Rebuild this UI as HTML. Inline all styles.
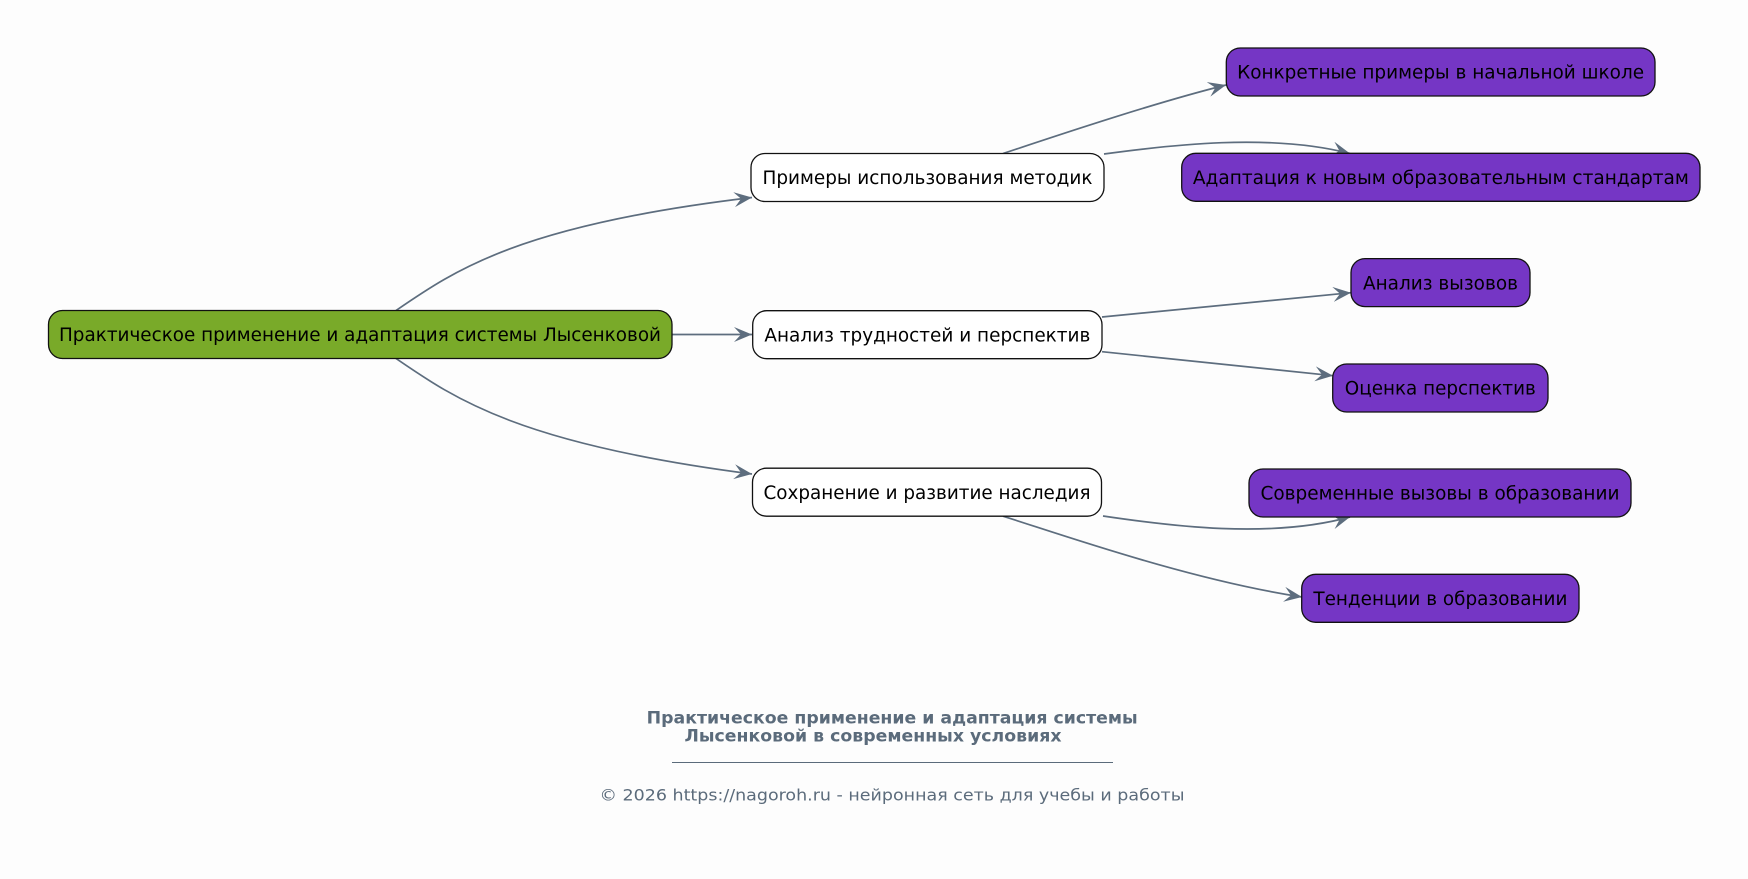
<!DOCTYPE html>
<html>
<head>
<meta charset="utf-8">
<style>
  html, body { margin:0; padding:0; background:#fdfdfd; }
  body { width:1748px; height:879px; overflow:hidden; }
  svg { display:block; }
  .n { font-family:"DejaVu Sans","Liberation Sans",sans-serif; font-size:18.5px; fill:#000; }
  .t { font-family:"DejaVu Sans","Liberation Sans",sans-serif; font-size:16.5px; font-weight:bold; fill:#5b6b7b; }
  .f { font-family:"DejaVu Sans","Liberation Sans",sans-serif; font-size:16px; fill:#5b6b7b; }
</style>
</head>
<body>
<svg width="1748" height="879" viewBox="0 0 1748 879" xmlns="http://www.w3.org/2000/svg">
  <defs>
    <marker id="ah" markerUnits="userSpaceOnUse" markerWidth="22" markerHeight="18" refX="18" refY="7.5" orient="auto">
      <path d="M0,0 L18,7.5 L0,15 L7,7.5 Z" fill="#5d6d7e"/>
    </marker>
  </defs>
  <rect width="1748" height="879" fill="#fdfdfd"/>

  <!-- edges -->
  <g fill="none" stroke="#5d6d7e" stroke-width="1.7" marker-end="url(#ah)">
    <path d="M396,310.5 C455,270 520,225 752,197.5"/>
    <path d="M672,334.5 L752,334.5"/>
    <path d="M396,358.5 C455,399 520,444 752,474"/>
    <path d="M1003,153.5 C1050,138 1150,104 1226,85"/>
    <path d="M1104,154 C1170,145 1270,133 1350,153.5"/>
    <path d="M1102,317 L1351,292.7"/>
    <path d="M1102,351.7 L1333,375.7"/>
    <path d="M1103,516 C1170,526 1270,539 1350,517"/>
    <path d="M1003,516.2 C1060,534 1190,580 1302,597"/>
  </g>

  <!-- root -->
  <rect x="48.5" y="310.5" width="623.5" height="48" rx="14" ry="14" fill="#79aa29" stroke="#111" stroke-width="1.3"/>
  <text class="n" x="360" y="341.2" text-anchor="middle" textLength="602" lengthAdjust="spacingAndGlyphs">Практическое применение и адаптация системы Лысенковой</text>

  <!-- middle nodes -->
  <rect x="751" y="153.5" width="353" height="48" rx="14" ry="14" fill="#ffffff" stroke="#111" stroke-width="1.3"/>
  <text class="n" x="927.5" y="184.2" text-anchor="middle" textLength="330" lengthAdjust="spacingAndGlyphs">Примеры использования методик</text>

  <rect x="752.7" y="310.7" width="349.3" height="48" rx="14" ry="14" fill="#ffffff" stroke="#111" stroke-width="1.3"/>
  <text class="n" x="927.4" y="341.4" text-anchor="middle" textLength="326" lengthAdjust="spacingAndGlyphs">Анализ трудностей и перспектив</text>

  <rect x="752.5" y="468.2" width="349" height="48" rx="14" ry="14" fill="#ffffff" stroke="#111" stroke-width="1.3"/>
  <text class="n" x="927" y="498.9" text-anchor="middle" textLength="327" lengthAdjust="spacingAndGlyphs">Сохранение и развитие наследия</text>

  <!-- right nodes -->
  <g fill="#7536c5" stroke="#111" stroke-width="1.3">
    <rect x="1226.3" y="48" width="428.7" height="48" rx="14" ry="14"/>
    <rect x="1181.7" y="153.3" width="518.3" height="48" rx="14" ry="14"/>
    <rect x="1351" y="258.6" width="179" height="48" rx="14" ry="14"/>
    <rect x="1332.7" y="364" width="215.3" height="48" rx="14" ry="14"/>
    <rect x="1249" y="469" width="382" height="48" rx="14" ry="14"/>
    <rect x="1301.7" y="574.3" width="277.3" height="48" rx="14" ry="14"/>
  </g>
  <text class="n" x="1440.6" y="78.7" text-anchor="middle" textLength="407" lengthAdjust="spacingAndGlyphs">Конкретные примеры в начальной школе</text>
  <text class="n" x="1440.9" y="184" text-anchor="middle" textLength="496" lengthAdjust="spacingAndGlyphs">Адаптация к новым образовательным стандартам</text>
  <text class="n" x="1440.5" y="289.3" text-anchor="middle" textLength="155" lengthAdjust="spacingAndGlyphs">Анализ вызовов</text>
  <text class="n" x="1440.3" y="394.7" text-anchor="middle" textLength="191" lengthAdjust="spacingAndGlyphs">Оценка перспектив</text>
  <text class="n" x="1440" y="499.7" text-anchor="middle" textLength="359" lengthAdjust="spacingAndGlyphs">Современные вызовы в образовании</text>
  <text class="n" x="1440.4" y="605" text-anchor="middle" textLength="254" lengthAdjust="spacingAndGlyphs">Тенденции в образовании</text>

  <!-- title -->
  <text class="t" x="646.7" y="723.5" textLength="491" lengthAdjust="spacingAndGlyphs">Практическое применение и адаптация системы</text>
  <text class="t" x="684.5" y="741.7" textLength="377" lengthAdjust="spacingAndGlyphs">Лысенковой в современных условиях</text>
  <line x1="672" y1="762.5" x2="1113" y2="762.5" stroke="#5b6b7b" stroke-width="1"/>
  <text class="f" x="599.5" y="800.5" textLength="585" lengthAdjust="spacingAndGlyphs">© 2026 https://nagoroh.ru - нейронная сеть для учебы и работы</text>
</svg>
</body>
</html>
